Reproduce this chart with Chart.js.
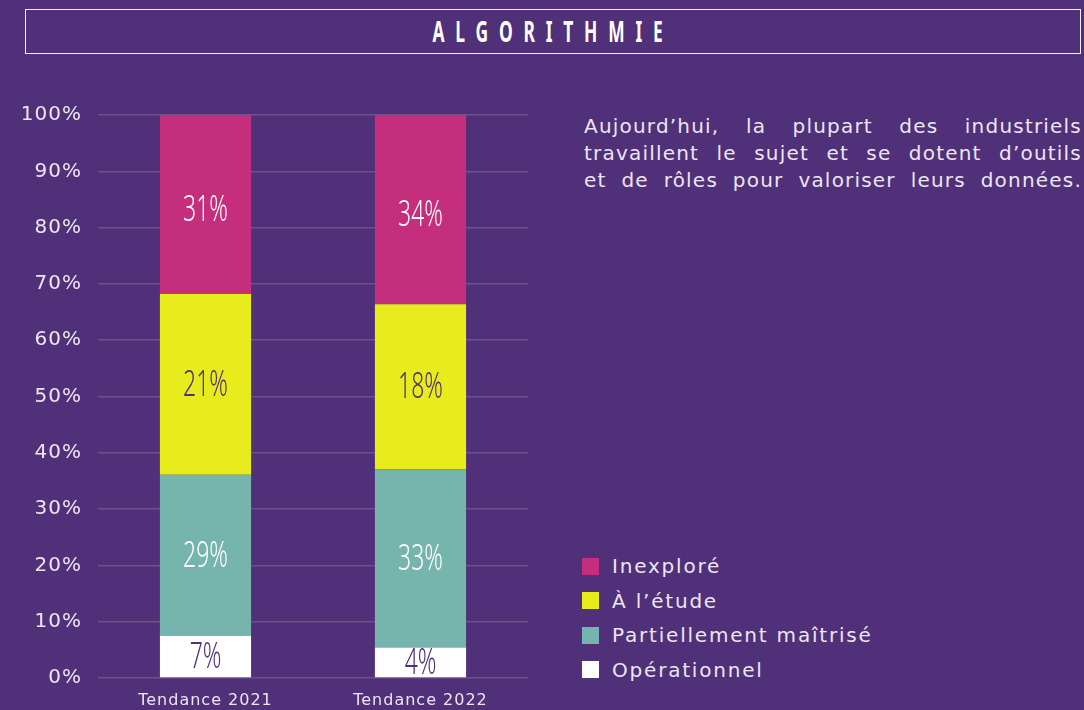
<!DOCTYPE html>
<html>
<head>
<meta charset="utf-8">
<script src="https://cdn.jsdelivr.net/npm/chart.js@4"></script>
<style>
    html, body { margin: 0; padding: 0; background: #503078; }
    #page { position: relative; width: 1084px; height: 710px; overflow: hidden; background: #503078; font-family: "DejaVu Sans", "Noto Sans", sans-serif; color: #ece6f2; }
    #title { position: absolute; left: 25px; top: 9px; width: 1056px; height: 45px; border: 1.5px solid #f2eef7; box-sizing: border-box; }
    #title span { position: absolute; left: 50%; top: 6px; transform: translateX(-50%) scaleX(0.6); white-space: nowrap; font-family: "Noto Sans", sans-serif; font-weight: bold; font-size: 29px; letter-spacing: 18px; color: #fff; line-height: 30px; }
    #note { position: absolute; left: 584px; top: 113px; width: 498px; font-size: 20px; line-height: 27px; letter-spacing: 1.2px; }
    #note div { text-align: justify; text-align-last: justify; white-space: nowrap; }
    #legend { position: absolute; left: 582px; top: 549px; font-size: 20px; letter-spacing: 1.8px; }
    .item { height: 34.5px; display: flex; align-items: center; }
    .box { width: 17px; height: 17px; margin-right: 13px; }
    #wrap { position: absolute; left: 0; top: 0; width: 540px; height: 710px; }
</style>
</head>
<body>
<div id="page">
    <div id="title"><span>ALGORITHMIE</span></div>
    <div id="wrap"><canvas id="chart"></canvas></div>
    <div id="note">
        <div>Aujourd’hui, la plupart des industriels</div>
        <div>travaillent le sujet et se dotent d’outils</div>
        <div>et de rôles pour valoriser leurs données.</div>
    </div>
    <div id="legend"></div>
</div>
<script>
// categories
const years = ['Tendance 2021', 'Tendance 2022'];

// bar heights as drawn (share of 100%)
const operationnel = [7.5, 5.4];
const partiel = [28.6, 31.7];
const etude = [32.1, 29.3];
const inexplore = [31.8, 33.6];

// printed labels on the bars
const operationnelLabels = ['7%', '4%'];
const partielLabels = ['29%', '33%'];
const etudeLabels = ['21%', '18%'];
const inexploreLabels = ['31%', '34%'];

const seriesNames = ['Opérationnel', 'Partiellement maîtrisé', 'À l’étude', 'Inexploré'];
const seriesColors = ['#ffffff', '#76b5ad', '#e8eb1c', '#c42e7c'];
const labelColors = ['#503078', '#ffffff', '#503078', '#ffffff'];
const labelShift = [1, 1, 1, 6];

const yTicks = [0, 10, 20, 30, 40, 50, 60, 70, 80, 90, 100];

const values = [operationnel, partiel, etude, inexplore];
const printed = [operationnelLabels, partielLabels, etudeLabels, inexploreLabels];

// a bit of tracking on the axis labels
const spacing = {
    id: 'spacing',
    beforeDraw(chart) { chart.ctx.letterSpacing = '1px'; }
};

// condensed-looking labels: squeeze the text horizontally
const barLabels = {
    id: 'barLabels',
    afterDatasetsDraw(chart) {
        const ctx = chart.ctx;
        chart.data.datasets.forEach((ds, i) => {
            chart.getDatasetMeta(i).data.forEach((bar, j) => {
                const mid = (bar.y + bar.base) / 2;
                ctx.save();
                ctx.letterSpacing = '0px';
                ctx.textAlign = 'center';
                ctx.textBaseline = 'middle';
                ctx.translate(bar.x, mid + labelShift[i]);
                ctx.scale(0.62, 1);
                ctx.font = '300 37px "Noto Sans", sans-serif';
                ctx.fillStyle = labelColors[i];
                ctx.fillText(printed[i][j], 0, 0);
                ctx.restore();
            });
        });
    }
};

const ctx = document.getElementById('chart').getContext('2d');
new Chart(ctx, {
    type: 'bar',
    data: {
        labels: years,
        datasets: values.map((v, i) => ({
            label: seriesNames[i],
            data: v,
            backgroundColor: seriesColors[i],
            borderWidth: 0,
            barPercentage: 0.424,
            categoryPercentage: 1
        }))
    },
    options: {
        responsive: true,
        maintainAspectRatio: false,
        animation: false,
        layout: { padding: { top: 115, right: 12, left: 0, bottom: 0 } },
        plugins: { legend: { display: false }, tooltip: { enabled: false } },
        scales: {
            x: {
                stacked: true,
                grid: { display: false },
                border: { display: false },
                ticks: { color: '#ece6f2', font: { family: '"DejaVu Sans", sans-serif', size: 16 }, padding: 5 },
                afterFit: s => { s.height = 32; }
            },
            y: {
                stacked: true,
                min: 0,
                max: 100,
                afterFit: s => { s.width = 98; },
                afterBuildTicks: s => { s.ticks = yTicks.map(v => ({ value: v })); },
                grid: { color: 'rgba(255,255,255,0.16)', lineWidth: 1.5, drawTicks: false },
                border: { display: false },
                ticks: {
                    color: '#ece6f2',
                    font: { family: '"DejaVu Sans", sans-serif', size: 20 },
                    padding: 16,
                    callback: v => v + '%'
                }
            }
        }
    },
    plugins: [spacing, barLabels]
});

// legend (top to bottom: reverse of stack order)
const legend = document.getElementById('legend');
for (let i = seriesNames.length - 1; i >= 0; i--) {
    const item = document.createElement('div');
    item.className = 'item';
    item.innerHTML = '<span class="box" style="background:' + seriesColors[i] + '"></span><span>' + seriesNames[i] + '</span>';
    legend.appendChild(item);
}
</script>
</body>
</html>
